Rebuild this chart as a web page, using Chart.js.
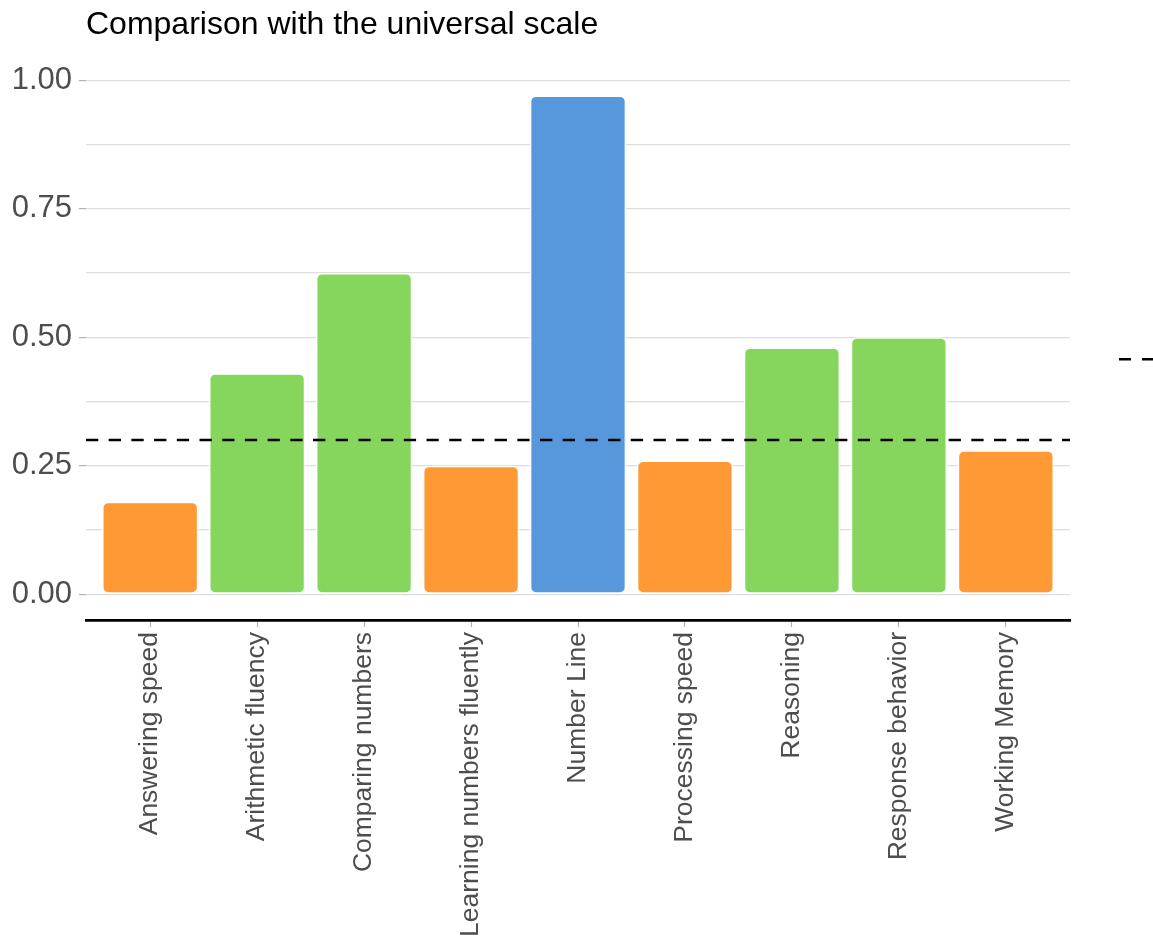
<!DOCTYPE html>
<html>
<head>
<meta charset="utf-8">
<script src="https://cdn.jsdelivr.net/npm/chart.js@4/dist/chart.umd.min.js"></script>
<style>
  html, body { margin: 0; padding: 0; background: #ffffff; }
  #wrap { width: 1153px; height: 947px; }
</style>
</head>
<body>
<div id="wrap"><canvas id="c" width="1153" height="947"></canvas></div>
<script>
// ---- data ----
const categories = [
  "Answering speed", "Arithmetic fluency", "Comparing numbers",
  "Learning numbers fluently", "Number Line", "Processing speed",
  "Reasoning", "Response behavior", "Working Memory"
];
const values = [0.18, 0.43, 0.625, 0.25, 0.97, 0.26, 0.48, 0.50, 0.28];
const groups = ["below", "above", "above", "below", "top", "below", "above", "above", "below"];
const groupColors = { below: "#FF9933", above: "#86D65D", top: "#5698DB" };
const referenceValue = 0.30;
const yTickValues = [0, 0.125, 0.25, 0.375, 0.5, 0.625, 0.75, 0.875, 1.0];
const titleText = "Comparison with the universal scale";

// ---- scale limits ----
const xMin = 0.4, xMax = categories.length + 0.6;
const yMin = -0.05, yMax = 1.05;

const FONT = '"Liberation Sans", Arial, Helvetica, sans-serif';

const barData = categories.map((c, i) => ({ x: i + 1, y: values[i] }));
const barColors = groups.map(g => groupColors[g]);
const refLineData = [{ x: xMin, y: referenceValue }, { x: xMax, y: referenceValue }];

const isMajor = v => Math.abs(v / 0.25 - Math.round(v / 0.25)) < 1e-9;

const legendKeyPlugin = {
  id: 'legendKey',
  afterDraw(chart) {
    const ctx = chart.ctx;
    const yScale = chart.scales.y;
    const yPix = yScale.getPixelForValue(0.5) + 22;
    const x0 = chart.chartArea.right + 49;
    ctx.save();
    ctx.strokeStyle = '#000000';
    ctx.lineWidth = 2.5;
    ctx.setLineDash([12, 11]);
    ctx.beginPath();
    ctx.moveTo(x0, yPix);
    ctx.lineTo(chart.width + 10, yPix);
    ctx.stroke();
    ctx.restore();
  }
};

new Chart(document.getElementById('c'), {
  data: {
    datasets: [
      {
        type: 'line',
        label: 'Universal scale',
        data: refLineData,
        borderColor: '#000000',
        borderWidth: 2.5,
        borderDash: [12.3, 10.4],
        pointRadius: 0,
        fill: false,
        order: 0
      },
      {
        type: 'bar',
        label: 'Score',
        data: barData,
        backgroundColor: barColors,
        borderColor: '#ffffff',
        borderWidth: 1.5,
        borderRadius: 6,
        borderSkipped: false,
        barPercentage: 0.9,
        categoryPercentage: 1.0,
        order: 1
      }
    ]
  },
  options: {
    responsive: false,
    animation: false,
    devicePixelRatio: 1,
    layout: { padding: { left: 0, right: 83, top: 0, bottom: 0 } },
    plugins: {
      legend: { display: false },
      tooltip: { enabled: false },
      title: {
        display: true,
        text: titleText,
        align: 'start',
        fullSize: false,
        color: '#000000',
        font: { family: FONT, size: 32, weight: 'normal', lineHeight: 1.2 },
        padding: { top: 6, bottom: 10 }
      }
    },
    scales: {
      x: {
        type: 'linear',
        min: xMin,
        max: xMax,
        offset: false,
        afterBuildTicks(scale) {
          scale.ticks = categories.map((c, i) => ({ value: i + 1 }));
        },
        afterFit(scale) { scale.height = 327; },
        ticks: {
          autoSkip: false,
          minRotation: 90,
          maxRotation: 90,
          padding: 5,
          color: '#4d4d4d',
          font: { family: FONT, size: 26.5 },
          callback: (v) => categories[Math.round(v) - 1] || ''
        },
        grid: {
          display: true,
          offset: false,
          drawOnChartArea: false,
          drawTicks: true,
          tickLength: 7,
          tickColor: '#b3b3b3',
          tickWidth: 1.2
        },
        border: { display: true, color: '#000000', width: 2.8 }
      },
      y: {
        type: 'linear',
        min: yMin,
        max: yMax,
        afterBuildTicks(scale) {
          scale.ticks = yTickValues.map(v => ({ value: v }));
        },
        afterFit(scale) { scale.width = 86; },
        ticks: {
          padding: 7,
          color: '#4d4d4d',
          font: { family: FONT, size: 31 },
          callback: (v) => isMajor(v) ? v.toFixed(2) : ''
        },
        grid: {
          display: true,
          color: '#dedede',
          lineWidth: 1.2,
          drawTicks: true,
          tickLength: 7,
          tickColor: (ctx) => (ctx.tick && isMajor(ctx.tick.value)) ? '#b3b3b3' : 'rgba(0,0,0,0)'
        },
        border: { display: false }
      }
    }
  },
  plugins: [legendKeyPlugin]
});
</script>
</body>
</html>
